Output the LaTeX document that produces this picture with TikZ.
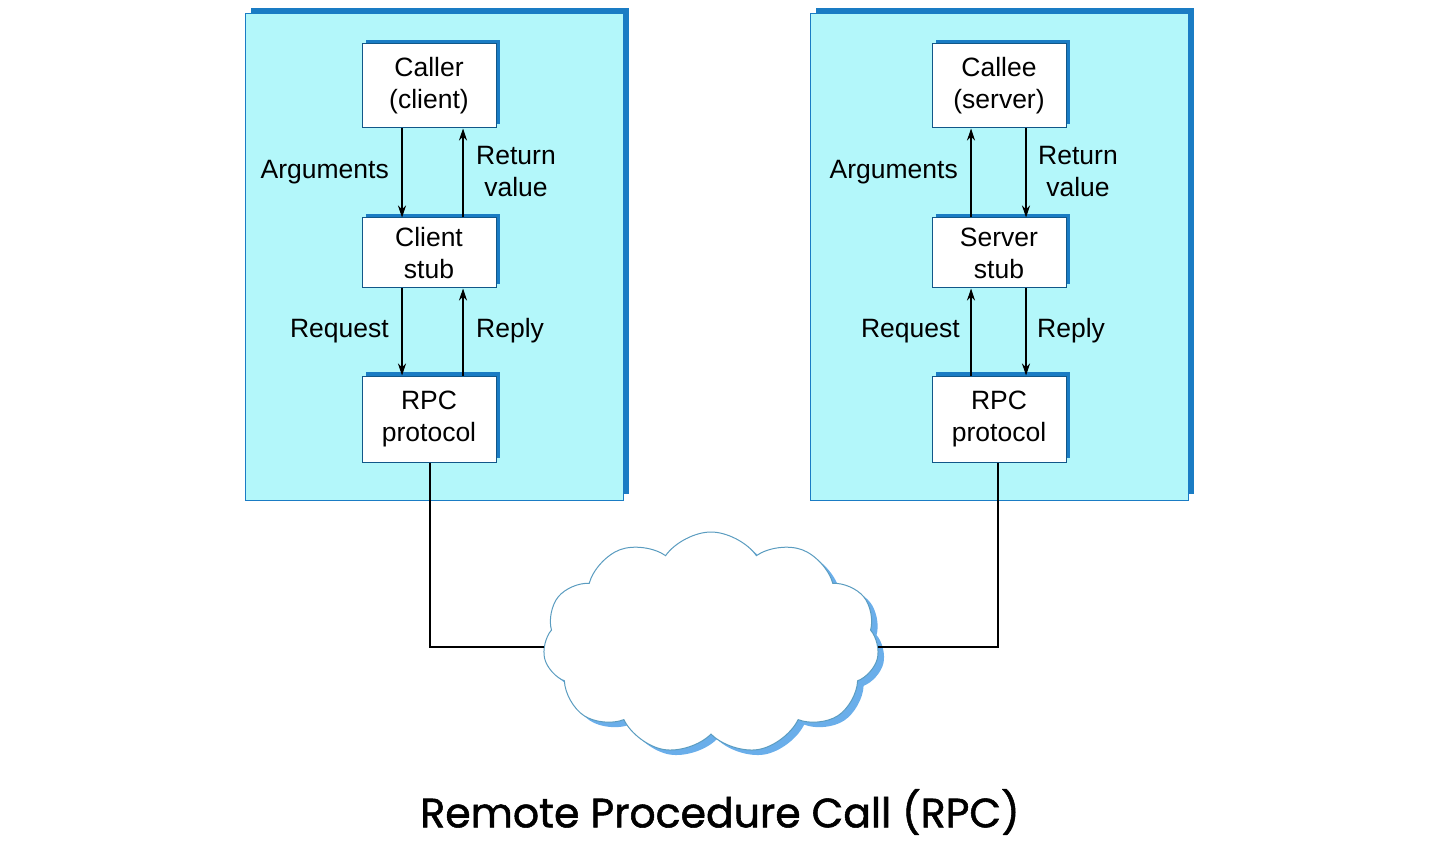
\documentclass[tikz,border=0pt]{standalone}
\usepackage{fontspec}
\setmainfont{Liberation Sans}
\newfontfamily\titlefont[FakeBold=1.3]{Poppins}
\usetikzlibrary{shapes.symbols,arrows.meta}
\definecolor{panel}{HTML}{B3F7FA}
\definecolor{edge}{HTML}{1A7CC4}
\definecolor{cloudedge}{HTML}{5A9CC0}
\definecolor{cloudsh}{HTML}{6AAEEA}
\begin{document}
\begin{tikzpicture}[x=1pt,y=-1pt,
  lbl/.style={font=\fontsize{26.5}{32}\selectfont,align=center,inner sep=0},
  box/.style={draw=edge!70!black,line width=1pt,fill=white,minimum width=134,minimum height=84,align=center,font=\fontsize{26.5}{32}\selectfont,inner sep=0},
  arr/.style={-{Stealth[length=12pt,width=8pt]},line width=1.1pt},
  wire/.style={line width=1.2pt}]
\useasboundingbox (0,0) rectangle (1440,850);
% panels
\foreach \x in {245,810}{
  \fill[edge] (\x+6,8) rectangle (\x+384,494);
  \fill[panel] (\x,14) rectangle (\x+378,500);
  \draw[edge,line width=1pt] (\x,14) rectangle (\x+378,500);
}
\foreach \n/\cx/\cy/\h/\t in {c1/429/86/84/{Caller\\(client)}, c2/429/253/70/{Client\\stub}, c3/429/419/86/{RPC\\protocol},
  s1/999/86/84/{Callee\\(server)}, s2/999/253/70/{Server\\stub}, s3/999/419/86/{RPC\\protocol}}{
  \fill[edge] (\cx-63,\cy-\h/2-4) rectangle (\cx+71,\cy+\h/2-4);
  \node[box,minimum height=\h] (\n) at (\cx,\cy) {\t};
}
% left arrows
\draw[arr] (c1.south -| 402,0) -- (c2.north -| 402,0);
\draw[arr] (c2.north -| 463,0) -- (c1.south -| 463,0);
\draw[arr] (c2.south -| 402,0) -- (c3.north -| 402,0);
\draw[arr] (c3.north -| 463,0) -- (c2.south -| 463,0);
\node[lbl,anchor=east] (a1) at (389,172) {Arguments};
\node[lbl] (r1) at (516,172) {Return\\value};
\node[lbl,anchor=east] (q1) at (389,331) {Request};
\node[lbl,anchor=west] (p1) at (476,331) {Reply};
% right arrows
\draw[arr] (s2.north -| 971,0) -- (s1.south -| 971,0);
\draw[arr] (s1.south -| 1026,0) -- (s2.north -| 1026,0);
\draw[arr] (s3.north -| 971,0) -- (s2.south -| 971,0);
\draw[arr] (s2.south -| 1026,0) -- (s3.north -| 1026,0);
\node[lbl,anchor=east] (a2) at (958,172) {Arguments};
\node[lbl] (r2) at (1078,172) {Return\\value};
\node[lbl,anchor=east] (q2) at (960,331) {Request};
\node[lbl,anchor=west] (p2) at (1037,331) {Reply};
% cloud
\node[cloud,cloud puffs=11,cloud puff arc=110,aspect=1.5,minimum width=336,minimum height=222,fill=cloudsh,inner sep=0] at (717,648) {};
\node[cloud,cloud puffs=11,cloud puff arc=110,aspect=1.5,minimum width=336,minimum height=222,fill=white,draw=cloudedge,line width=1pt,inner sep=0] (net) at (711,643) {};
\coordinate (jl) at (430,647);
\coordinate (jr) at (998,647);
\draw[wire] (c3.south -| 430,0) -- (jl) -- (net.west |- jl);
\draw[wire] (s3.south -| 998,0) -- (jr) -- (net.east |- jr);
\node[font=\titlefont\fontsize{41}{46}\selectfont] (title) at (720,812) {Remote Procedure Call (RPC)};
\end{tikzpicture}
\end{document}
